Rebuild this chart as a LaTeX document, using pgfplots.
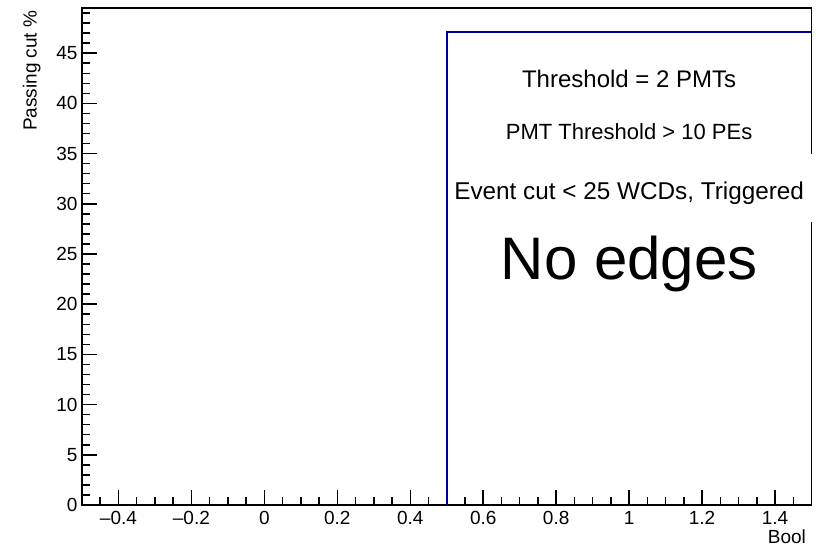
\documentclass[border=0pt]{standalone}
\usepackage{pgfplots}
\pgfplotsset{compat=1.18}
\usepackage{fontspec}
\setmainfont{Liberation Sans}
\definecolor{histblue}{RGB}{0,0,153}
\begin{document}
\begin{tikzpicture}
\begin{axis}[
    scale only axis,
    width=729.5pt, height=497pt,
    xmin=-0.5, xmax=1.5,
    ymin=0, ymax=49.5,
    axis line style={line width=1.6pt},
    every major tick/.append style={line width=1.5pt, black},
    every minor tick/.append style={line width=1.5pt, black},
    tick align=inside,
    xtick pos=bottom, ytick pos=left,
    major tick length=15pt, minor tick length=8pt,
    xtick={-0.4,-0.2,0,0.2,0.4,0.6,0.8,1,1.2,1.4},
    xticklabels={\textendash0.4,\textendash0.2,0,0.2,0.4,0.6,0.8,1,1.2,1.4},
    minor xtick={-0.45,-0.4,...,1.5},
    ytick={0,5,...,45},
    minor ytick={0,1,...,49},
    /pgf/number format/assume math mode=true,
    tick label style={font=\fontsize{19}{22}\selectfont},
    xticklabel style={text height=13.5pt, text depth=0pt, yshift=-2pt},
    yticklabel style={xshift=-1pt},
    xlabel={Bool},
    ylabel={Passing cut \%},
    label style={font=\fontsize{19}{22}\selectfont},
    xlabel style={at={(rel axis cs:1,0)}, anchor=north east, yshift=-21pt, xshift=-2pt},
    ylabel style={at={(rel axis cs:0,1)}, anchor=south east, yshift=38pt, xshift=1pt},
    clip=false,
]
\addplot[histblue, line width=1.5pt] coordinates {
    (0.5,0) (0.5,47.1) (1.5,47.1)
};
\coordinate (t1) at (axis cs:1.0,42.4);
\coordinate (t2) at (axis cs:1.0,37.2);
\coordinate (box) at (axis cs:1.0,31.57);
\coordinate (t3) at (axis cs:1.0,31.1);
\coordinate (t4) at (axis cs:1.0,24.0);
\end{axis}
\node[font=\fontsize{24}{28}\selectfont, inner sep=0pt] at (t1) {Threshold = 2 PMTs};
\node[font=\fontsize{22}{26}\selectfont, inner sep=0pt] at (t2) {PMT Threshold > 10 PEs};
\node[fill=white, minimum width=365pt, minimum height=68pt, inner sep=0pt, xshift=1pt] at (box) {};
\node[font=\fontsize{24.3}{28}\selectfont, inner sep=0pt] at (t3) {Event cut < 25 WCDs, Triggered};
\node[font=\fontsize{60}{66}\selectfont, inner sep=0pt] at (t4) {No edges};
\pgfresetboundingbox
\path (-82pt,-43pt) rectangle (743pt,505pt);
\end{tikzpicture}
\end{document}
